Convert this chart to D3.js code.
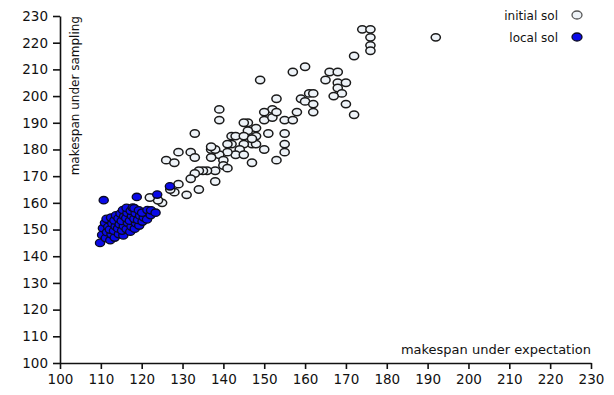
<!DOCTYPE html>
<html>
<head>
<meta charset="utf-8">
<script src="https://cdn.jsdelivr.net/npm/d3@7"></script>
<style>
  body { margin: 0; background: #fff; }
  text { font-family: "DejaVu Sans", sans-serif; fill: #111; }
</style>
</head>
<body>
<div id="chart"></div>
<script>
// initial solutions: [makespan under expectation, makespan under sampling]
const initialSol = [
  [174,225],[176,225],[176,222],[176,219],[176,217],[192,222],[172,215],
  [166,209],[168,209],[160,211],[157,209],[149,206],[165,206],[168,205],[170,205],
  [168,203],[169,201],[167,200],[170,197],[172,193],
  [161,201],[162,201],[159,199],[160,198],[162,197],[162,194],[158,194],[153,199],
  [155,191],[157,191],[152,195],[150,194],[150,191],[152,192],[153,194],
  [146,190],[145,190],[148,188],[146,187],[148,185],[146,183],[147,182],[151,186],
  [155,186],[155,182],[155,179],[153,176],[150,180],[148,182],[145,182],[144,180],
  [142,182],[143,178],[145,178],[141,179],[139,178],[137,180],[138,180],[137,177],
  [140,176],[140,174],[141,173],[138,172],[136,172],[135,172],[134,172],[133,171],
  [132,169],[147,175],[139,195],[139,191],[133,186],[129,179],[132,179],[126,176],
  [128,175],[133,177],[137,181],[141,182],[142,185],[143,185],[145,185],[147,184],
  [129,167],[138,168],[134,165],[131,163],[128,164],[125,160],[124,161],[122,162],
  [127,165]
];

const localSol = [
  [109.8,145],[110.3,148],[110.5,150.5],[111,152.5],[111.2,146.8],[111.5,149],[111.8,151],[111.4,154],
  [112.3,146],[112.6,148.2],[112.2,150],[112.8,152.3],[112.5,154.5],[113.4,147],[113.2,149.5],[113.6,151.2],
  [113.3,153.4],[113.7,155.3],[114.4,148.3],[114.2,150.4],[114.6,152],[114.3,154.2],[114.8,156],[115.5,147.8],
  [115.2,149.6],[115.6,151.3],[115.1,153.2],[115.7,155],[115.4,157.3],[116.3,150.2],[116.6,152.5],[116.2,154.3],
  [116.5,156.2],[116.3,158.1],[117.2,149.2],[117.5,151.1],[117.1,153.3],[117.6,155.1],[117.3,157],[117.8,158.2],
  [118.3,150.3],[118.6,152.4],[118.2,154],[118.5,156.1],[118.2,158],[119.4,151.5],[119.1,153.6],[119.6,155.2],
  [119.3,157.2],[120.2,153],[120.5,154.6],[120.1,156.3],[121.3,153.8],[121.4,157.3],[122.2,155.4],[122.3,157.2],
  [123.4,156.3],[110.7,161],[118.8,162.2],[123.8,163.1],[126.9,166.2]
];

const xTicks = d3.range(100, 231, 10);
const yTicks = d3.range(100, 231, 10);
const legendItems = ["initial sol", "local sol"];

const W = 614, H = 395;
const margin = {top: 16, right: 23, bottom: 32, left: 60};

const svg = d3.select("#chart").append("svg")
  .attr("width", W).attr("height", H);

const x = d3.scaleLinear().domain([100, 230]).range([margin.left, W - margin.right]);
const y = d3.scaleLinear().domain([100, 230]).range([H - margin.bottom, margin.top]);

// axes
const xAxis = svg.append("g")
  .attr("transform", `translate(0,${H - margin.bottom})`)
  .call(d3.axisBottom(x).tickValues(xTicks).tickSize(6).tickPadding(5).tickSizeOuter(0));
const yAxis = svg.append("g")
  .attr("transform", `translate(${margin.left},0)`)
  .call(d3.axisLeft(y).tickValues(yTicks).tickSize(7).tickPadding(5).tickSizeOuter(0));

[xAxis, yAxis].forEach(a => {
  a.select(".domain").attr("stroke", "#111").attr("stroke-width", 1.6);
  a.selectAll(".tick line").attr("stroke", "#111").attr("stroke-width", 1.6);
  a.selectAll(".tick text").style("font-size", "13.5px").attr("fill", "#111");
});

// axis titles
svg.append("text")
  .attr("x", W - margin.right)
  .attr("y", H - margin.bottom - 9)
  .attr("text-anchor", "end")
  .style("font-size", "13px")
  .text("makespan under expectation");

svg.append("text")
  .attr("transform", `translate(79,${margin.top}) rotate(-90)`)
  .attr("text-anchor", "end")
  .style("font-size", "12px")
  .text("makespan under sampling");

// points
const rx = 4.6, ry = 3.7;
svg.append("g").selectAll("ellipse")
  .data(initialSol).join("ellipse")
  .attr("cx", d => x(d[0])).attr("cy", d => y(d[1]))
  .attr("rx", rx).attr("ry", ry)
  .attr("fill", "#eef3f8").attr("stroke", "#1a1a1a").attr("stroke-width", 1.5);

svg.append("g").selectAll("ellipse")
  .data(localSol).join("ellipse")
  .attr("cx", d => x(d[0])).attr("cy", d => y(d[1]))
  .attr("rx", rx).attr("ry", ry)
  .attr("fill", "#0a0ae8").attr("stroke", "#0a0a20").attr("stroke-width", 1.3);

// legend
const legend = svg.append("g");
legendItems.forEach((name, i) => {
  const cy = 15 + i * 22;
  legend.append("text")
    .attr("x", 558).attr("y", cy + 4.5)
    .attr("text-anchor", "end")
    .style("font-size", "12px")
    .text(name);
  legend.append("ellipse")
    .attr("cx", 577).attr("cy", cy)
    .attr("rx", 5).attr("ry", 4)
    .attr("fill", i === 0 ? "#eef3f8" : "#0a0ae8")
    .attr("stroke", i === 0 ? "#555" : "#0a0a20")
    .attr("stroke-width", 1.3);
});
</script>
</body>
</html>
